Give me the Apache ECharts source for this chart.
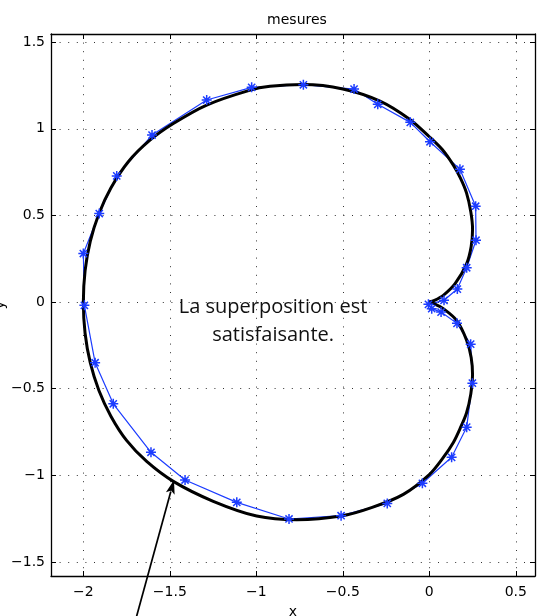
<!DOCTYPE html>
<html><head><meta charset="utf-8">
<script src="https://cdn.jsdelivr.net/npm/echarts@6/dist/echarts.min.js"></script>
<style>html,body{margin:0;padding:0;background:#fff}#c{width:539px;height:616px}</style>
</head><body><div id="c"></div>
<script>
// ---- data ----
const titleText = 'mesures';
const xName = 'x';
const yName = 'y';
const xTicks = [-2, -1.5, -1, -0.5, 0, 0.5];
const yTicks = [-1.5, -1, -0.5, 0, 0.5, 1, 1.5];
const xRange = [-2.187, 0.611];
const yRange = [-1.581, 1.547];

// black reference curve (theory)
const theoryX = [0, 0.030, 0.081, 0.149, 0.216, 0.242, 0.250, 0.240, 0.215, 0.180, 0.139, 0.075, 0, -0.112, -0.285, -0.500, -0.728, -0.921, -1.040, -1.287, -1.480, -1.620, -1.740, -1.840, -1.910, -1.960, -1.990, -2.000, -1.990, -1.960, -1.910, -1.840, -1.749, -1.634, -1.480, -1.249, -0.998, -0.766, -0.510, -0.330, -0.150, 0, 0.075, 0.139, 0.180, 0.215, 0.240, 0.250, 0.242, 0.216, 0.158, 0.081, 0.030, 0];
const theoryY = [0, 0.010, 0.039, 0.106, 0.222, 0.320, 0.420, 0.520, 0.630, 0.715, 0.790, 0.880, 0.954, 1.054, 1.160, 1.230, 1.255, 1.245, 1.222, 1.137, 1.030, 0.930, 0.810, 0.660, 0.510, 0.350, 0.180, 0, -0.180, -0.350, -0.510, -0.660, -0.800, -0.920, -1.035, -1.150, -1.235, -1.256, -1.235, -1.185, -1.110, -0.996, -0.905, -0.810, -0.725, -0.640, -0.530, -0.420, -0.320, -0.221, -0.106, -0.038, -0.010, 0];

// blue measured points
const measX = [-0.005, 0.085, 0.162, 0.216, 0.270, 0.268, 0.177, 0.004, -0.110, -0.298, -0.435, -0.728, -1.027, -1.287, -1.603, -1.807, -1.908, -2.000, -1.994, -1.932, -1.827, -1.609, -1.412, -1.113, -0.811, -0.510, -0.243, -0.040, 0.129, 0.216, 0.249, 0.239, 0.160, 0.068, 0.014];
const measY = [-0.013, 0.010, 0.075, 0.198, 0.357, 0.553, 0.767, 0.925, 1.037, 1.141, 1.229, 1.254, 1.239, 1.166, 0.964, 0.728, 0.511, 0.280, -0.019, -0.350, -0.587, -0.867, -1.027, -1.156, -1.252, -1.233, -1.162, -1.046, -0.896, -0.722, -0.468, -0.243, -0.123, -0.058, -0.038];

// annotation
const noteLines = ['La superposition est', 'satisfaisante.'];
const notePos = [-0.903, -0.11];
const arrowFrom = [-1.731, -1.955];
const arrowTo = [-1.476, -1.027];

// ---- chart ----
const BLUE = '#1c3cff';
const axisFont = {fontFamily: 'DejaVu Sans', fontSize: 14, color: '#000'};
const fmt = v => String(v).replace('-', '\u2212');
const theory = theoryX.map((x, i) => [x, theoryY[i]]);
const meas = measX.map((x, i) => [x, measY[i]]);
const starPath = 'path://M-5,0L5,0M0,-5L0,5M-3.6,-3.6L3.6,3.6M-3.6,3.6L3.6,-3.6';

const chart = echarts.init(document.getElementById('c'), null, {renderer: 'canvas'});
const gridLine = {show: true, lineStyle: {color: '#333', width: 1, type: [1, 7.6]}};
const tickIn = vals => ({show: true, inside: true, length: 5, customValues: vals, lineStyle: {color: '#000', width: 1}});

chart.setOption({
  animation: false,
  backgroundColor: '#fff',
  title: {text: titleText, left: 292, textAlign: 'center', top: 8, textStyle: {fontFamily: 'DejaVu Sans', fontSize: 14, fontWeight: 'normal', color: '#000'}},
  grid: {left: 51, right: 4, top: 34, bottom: 40, containLabel: false, outerBoundsMode: 'none'},
  xAxis: [{
    type: 'value', min: xRange[0], max: xRange[1], position: 'bottom',
    name: xName, nameLocation: 'middle', nameGap: 29, nameTextStyle: axisFont,
    axisLine: {show: true, onZero: false, lineStyle: {color: '#000', width: 1.3}},
    axisTick: tickIn(xTicks),
    axisLabel: Object.assign({show: true, customValues: xTicks, formatter: fmt, margin: 9}, axisFont),
    splitLine: gridLine
  }, {
    type: 'value', min: xRange[0], max: xRange[1], position: 'top',
    axisLine: {show: true, onZero: false, lineStyle: {color: '#000', width: 1.3}},
    axisTick: tickIn(xTicks), axisLabel: {show: false}, splitLine: {show: false}
  }],
  yAxis: [{
    type: 'value', min: yRange[0], max: yRange[1], position: 'left',
    name: yName, nameLocation: 'middle', nameGap: 44, nameMoveOverlap: false, nameTextStyle: axisFont,
    axisLine: {show: true, onZero: false, lineStyle: {color: '#000', width: 1.3}},
    axisTick: tickIn(yTicks),
    axisLabel: Object.assign({show: true, customValues: yTicks, formatter: fmt, margin: 6}, axisFont),
    splitLine: gridLine
  }, {
    type: 'value', min: yRange[0], max: yRange[1], position: 'right',
    axisLine: {show: true, onZero: false, lineStyle: {color: '#000', width: 1.3}},
    axisTick: tickIn(yTicks), axisLabel: {show: false}, splitLine: {show: false}
  }],
  series: [{
    type: 'line', data: meas, showSymbol: false, silent: true, z: 2,
    lineStyle: {color: BLUE, width: 1.2}
  }, {
    type: 'line', data: theory, showSymbol: false, silent: true, smooth: 0.3, z: 3,
    lineStyle: {color: '#000', width: 3}
  }, {
    type: 'scatter', data: meas, symbol: starPath, symbolSize: 10, silent: true, z: 4,
    itemStyle: {color: 'rgba(0,0,0,0)', borderColor: BLUE, borderWidth: 1.5, opacity: 1}
  }]
});

const p0 = chart.convertToPixel({gridIndex: 0}, arrowFrom);
const p1 = chart.convertToPixel({gridIndex: 0}, arrowTo);
const np = chart.convertToPixel({gridIndex: 0}, notePos);
const dx = p1[0] - p0[0], dy = p1[1] - p0[1];
const L = Math.hypot(dx, dy), ux = dx / L, uy = dy / L;
const headLen = 14, headW = 4.5;
const bx = p1[0] - ux * headLen, by = p1[1] - uy * headLen;
chart.setOption({
  graphic: [
    {type: 'text', x: np[0], y: np[1], z: 10, style: {text: noteLines.join('\n'), fontFamily: 'Open Sans', fontSize: 20, lineHeight: 28, fill: '#111', align: 'center', verticalAlign: 'middle'}},
    {type: 'line', z: 10, shape: {x1: p0[0], y1: p0[1], x2: bx + ux * 2, y2: by + uy * 2}, style: {stroke: '#000', lineWidth: 1.7}},
    {type: 'polygon', z: 10, shape: {points: [[p1[0], p1[1]], [bx - uy * headW, by + ux * headW], [bx + ux * 3, by + uy * 3], [bx + uy * headW, by - ux * headW]]}, style: {fill: '#000'}}
  ]
});
</script>
</body></html>
